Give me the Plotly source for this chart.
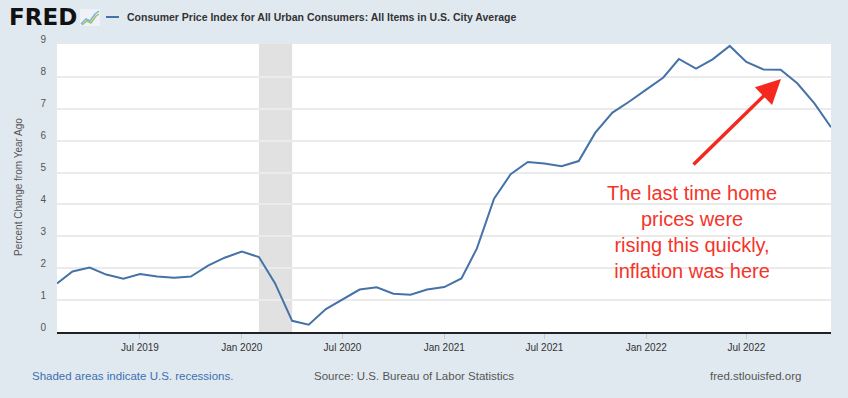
import pandas as pd
import plotly.graph_objects as go

# ---------------- data ----------------
months = pd.date_range("2019-02-01", "2022-12-01", freq="MS")
cpi_yoy = [
    1.52, 1.90, 2.02, 1.80, 1.67, 1.82, 1.74, 1.70, 1.74, 2.08, 2.33,              # 2019 Feb-Dec
    2.52, 2.35, 1.53, 0.35, 0.23, 0.72, 1.03, 1.33, 1.40, 1.20, 1.17, 1.33,        # 2020
    1.41, 1.68, 2.62, 4.18, 4.95, 5.33, 5.28, 5.20, 5.36, 6.25, 6.88, 7.22,        # 2021
    7.60, 7.98, 8.56, 8.26, 8.55, 8.97, 8.47, 8.23, 8.22, 7.80, 7.17, 6.42,        # 2022
]
tick_dates = ["2019-07-01", "2020-01-01", "2020-07-01", "2021-01-01",
              "2021-07-01", "2022-01-01", "2022-07-01"]
tick_labels = ["Jul 2019", "Jan 2020", "Jul 2020", "Jan 2021",
               "Jul 2021", "Jan 2022", "Jul 2022"]
y_ticks = list(range(0, 10))
recession = ("2020-02-01", "2020-04-01")

series_name = "Consumer Price Index for All Urban Consumers: All Items in U.S. City Average"
y_title = "Percent Change from Year Ago"
note_text = "The last time home<br>prices were<br>rising this quickly,<br>inflation was here"

# ---------------- layout geometry (page pixels) ----------------
W, H = 848, 398
PL, PR, PT, PB = 57, 831, 44, 332   # plot area in pixels


def px(x):
    return (x - PL) / (PR - PL)


def py(y):
    return (PB - y) / (PB - PT)


LINE_BLUE = "#4572a7"
BG = "#e1e9f0"

fig = go.Figure()
fig.add_trace(go.Scatter(
    x=months, y=cpi_yoy, mode="lines",
    line=dict(color=LINE_BLUE, width=2),
    showlegend=False, hoverinfo="x+y",
))

fig.add_vrect(x0=recession[0], x1=recession[1], fillcolor="#e1e1e1",
              opacity=1, line_width=0, layer="below")

font_main = "Liberation Sans, Arial, sans-serif"

fig.update_layout(
    width=W, height=H,
    margin=dict(l=PL, r=W - PR, t=PT, b=H - PB, autoexpand=False),
    paper_bgcolor=BG, plot_bgcolor="white",
    font=dict(family=font_main, color="#333333"),
    template="none",
    xaxis=dict(
        range=[months[0], months[-1]],
        tickvals=tick_dates, ticktext=tick_labels,
        tickfont=dict(size=10, color="#333333"),
        showgrid=False, zeroline=False,
        showline=True, linecolor="#222222", linewidth=2,
        ticks="outside", ticklen=5, tickcolor="#c8c8c8", tickwidth=1,
        automargin=False,
    ),
    yaxis=dict(
        range=[0, 9.03],
        tickvals=y_ticks,
        tickfont=dict(size=10, color="#555555"),
        showgrid=True, gridcolor="#ebebeb", gridwidth=1.5,
        zeroline=False, showline=False, ticks="",
        ticklabelshift=-5, ticklabelstandoff=10,
        automargin=False,
    ),
)

annotations = [
    # FRED logo
    dict(x=px(7), y=py(17), xref="paper", yref="paper", xanchor="left", yanchor="middle",
         text="<b>FRED</b>", showarrow=False,
         font=dict(family="DejaVu Sans, Liberation Sans, Arial", size=23, color="#111111")),
    # series title
    dict(x=px(125), y=py(17), xref="paper", yref="paper", xanchor="left", yanchor="middle",
         text="<b>" + series_name + "</b>", showarrow=False,
         font=dict(family=font_main, size=10.5, color="#333333")),
    # y axis title
    dict(x=px(18), y=py(187), xref="paper", yref="paper", xanchor="center", yanchor="middle",
         text=y_title, textangle=-90, showarrow=False,
         font=dict(family=font_main, size=10, color="#555555")),
    # footer
    dict(x=px(30), y=py(376), xref="paper", yref="paper", xanchor="left", yanchor="middle",
         text="Shaded areas indicate U.S. recessions.", showarrow=False,
         font=dict(family=font_main, size=11.5, color="#3d6fb0")),
    dict(x=px(312), y=py(376), xref="paper", yref="paper", xanchor="left", yanchor="middle",
         text="Source: U.S. Bureau of Labor Statistics", showarrow=False,
         font=dict(family=font_main, size=11.5, color="#555555")),
    dict(x=px(803), y=py(376), xref="paper", yref="paper", xanchor="right", yanchor="middle",
         text="fred.stlouisfed.org", showarrow=False,
         font=dict(family=font_main, size=11.5, color="#555555")),
    # red note
    dict(x=px(692), y=py(232), xref="paper", yref="paper", xanchor="center", yanchor="middle",
         text=note_text, showarrow=False, align="center",
         font=dict(family=font_main, size=20, color="#f5342a")),
    # red arrow (tail offset in pixels)
    dict(x=px(781), y=py(79), xref="paper", yref="paper",
         ax=692 - 781, ay=166 - 79, axref="pixel", ayref="pixel",
         text="", showarrow=True, arrowhead=2, arrowsize=1.4, arrowwidth=3.5,
         arrowcolor="#f5281e", standoff=0),
]
fig.update_layout(annotations=annotations)

# legend line sample and small logo icon
shapes = [
    dict(type="line", xref="paper", yref="paper", x0=px(106), x1=px(119), y0=py(17), y1=py(17),
         line=dict(color=LINE_BLUE, width=2)),
    dict(type="rect", xref="paper", yref="paper", x0=px(80), x1=px(100), y0=py(26), y1=py(9),
         line=dict(width=0), fillcolor="#eef2f6"),
    dict(type="path", xref="paper", yref="paper",
         path=f"M {px(81)},{py(24)} L {px(86)},{py(19)} L {px(90)},{py(21)} L {px(95)},{py(14)} L {px(99)},{py(11)}",
         line=dict(color="#7fb2d9", width=1.5)),
    dict(type="path", xref="paper", yref="paper",
         path=f"M {px(82)},{py(25)} L {px(87)},{py(21)} L {px(91)},{py(23)} L {px(96)},{py(16)} L {px(99)},{py(14)}",
         line=dict(color="#9cc36a", width=1.5)),
]
fig.update_layout(shapes=list(fig.layout.shapes) + shapes)

# remove the page's default body margin so the figure fills the window
fig.write_html(
    "out.html",
    config={"displayModeBar": False},
    post_script="document.body.style.margin='0';document.body.style.background='#e1e9f0';",
)
